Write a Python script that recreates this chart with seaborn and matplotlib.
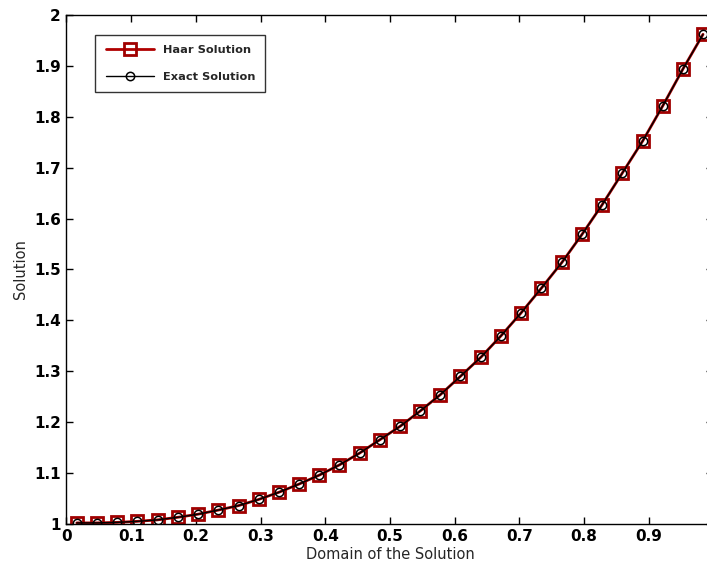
import numpy as np
import pandas as pd
import matplotlib
matplotlib.use("Agg")
import matplotlib.pyplot as plt
import seaborn as sns

# collocation points and solution values
x_pts = [0.016, 0.047, 0.078, 0.109, 0.141, 0.172, 0.203, 0.234,
         0.266, 0.297, 0.328, 0.359, 0.391, 0.422, 0.453, 0.484,
         0.516, 0.547, 0.578, 0.609, 0.641, 0.672, 0.703, 0.734,
         0.766, 0.797, 0.828, 0.859, 0.891, 0.922, 0.953, 0.984]
haar_sol = [1.002, 1.002, 1.003, 1.005, 1.008, 1.013, 1.019, 1.027,
            1.036, 1.048, 1.062, 1.078, 1.096, 1.116, 1.139, 1.165,
            1.192, 1.222, 1.254, 1.290, 1.328, 1.370, 1.415, 1.463,
            1.514, 1.569, 1.627, 1.689, 1.753, 1.822, 1.894, 1.962]
exact_sol = [1.002, 1.002, 1.003, 1.005, 1.008, 1.013, 1.019, 1.027,
             1.036, 1.048, 1.062, 1.078, 1.096, 1.116, 1.139, 1.165,
             1.192, 1.222, 1.254, 1.290, 1.328, 1.370, 1.415, 1.463,
             1.514, 1.569, 1.627, 1.689, 1.753, 1.822, 1.894, 1.962]
x_ticks = [0, 0.1, 0.2, 0.3, 0.4, 0.5, 0.6, 0.7, 0.8, 0.9, 1]
y_ticks = [1, 1.1, 1.2, 1.3, 1.4, 1.5, 1.6, 1.7, 1.8, 1.9, 2]

sns.set_style("ticks")
plt.rcParams['font.family'] = ['DejaVu Sans']

fig = plt.figure(figsize=(7.07, 5.77), dpi=100)
ax = fig.add_axes([0.094, 0.092, 0.915, 0.882])

df = pd.DataFrame({"x": x_pts, "haar": haar_sol, "exact": exact_sol})

# Haar solution: red line, square markers
sns.lineplot(data=df, x="x", y="haar", ax=ax, color="#b00000", linewidth=2,
             marker="s", markersize=8.5, markerfacecolor="none",
             markeredgecolor="#a00000", markeredgewidth=2,
             label="Haar Solution")
# exact solution: thin black line, circles
sns.lineplot(data=df, x="x", y="exact", ax=ax, color="black", linewidth=1,
             marker="o", markersize=6, markerfacecolor="none",
             markeredgecolor="black", markeredgewidth=1.1,
             label="Exact Solution")

ax.set_xlim(0, 1)
ax.set_ylim(1, 2)
ax.set_xticks(x_ticks)
ax.set_yticks(y_ticks)
ax.set_xticklabels([f"{t:g}" for t in x_ticks], fontweight="bold", fontsize=11)
ax.set_yticklabels([f"{t:g}" for t in y_ticks], fontweight="bold", fontsize=11)
ax.tick_params(direction="in", top=True, right=True, length=5, width=1,
               pad=4, colors="black")
for s in ax.spines.values():
    s.set_linewidth(1)
    s.set_color("black")

ax.set_xlabel("Domain of the Solution", fontsize=10.5, labelpad=2)
ax.set_ylabel("Solution", fontsize=10.5, labelpad=4)

leg = ax.legend(loc="upper left", bbox_to_anchor=(0.036, 0.972),
                fancybox=False, frameon=True, edgecolor="black",
                handlelength=4.2, borderpad=0.9, labelspacing=1.45,
                prop={"weight": "bold", "size": 8.2})
leg.get_frame().set_linewidth(1)

fig.savefig("out.png", dpi=100)
